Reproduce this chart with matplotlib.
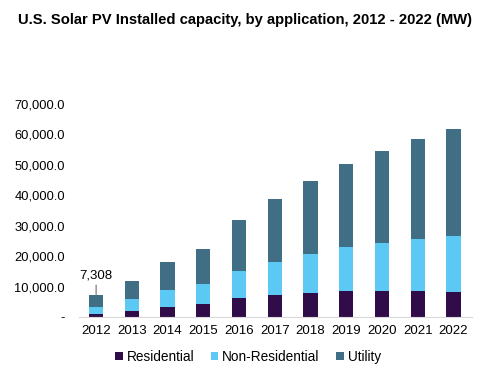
import matplotlib
matplotlib.use("Agg")
import matplotlib.pyplot as plt
import numpy as np

years = ["2012", "2013", "2014", "2015", "2016", "2017", "2018", "2019", "2020", "2021", "2022"]
residential = [1000, 2100, 3300, 4300, 6300, 7200, 7900, 8600, 8600, 8600, 8200]
non_residential = [2300, 3800, 5600, 6600, 8800, 10900, 12800, 14400, 15700, 17100, 18400]
utility = [4008, 5950, 9200, 11500, 16800, 20700, 24000, 27300, 30300, 32800, 35200]
series_names = ["Residential", "Non-Residential", "Utility"]
colors = ["#300D48", "#5BC9F3", "#3F6E85"]
yticks = [0, 10000, 20000, 30000, 40000, 50000, 60000, 70000]
ytick_labels = ["-", "10,000.0", "20,000.0", "30,000.0", "40,000.0", "50,000.0", "60,000.0", "70,000.0"]
label_text = "7,308"

plt.rcParams['font.family'] = ['Liberation Sans', 'DejaVu Sans']

fig = plt.figure(figsize=(4.96, 3.79), dpi=100)
W, H = 496, 379
ax = fig.add_axes([79 / W, 1 - 317 / H, (472 - 79) / W, (317 - 104) / H])

x = np.arange(len(years))
bw = 0.4
bottom = np.zeros(len(years))
for vals, name, c in zip([residential, non_residential, utility], series_names, colors):
    ax.bar(x, vals, bw, bottom=bottom, color=c, label=name)
    bottom = bottom + np.array(vals)

ax.set_xlim(-0.48, 10.52)
ax.set_ylim(0, 70000)
ax.set_yticks(yticks)
ax.set_yticklabels(ytick_labels)
ax.set_xticks(x)
ax.set_xticklabels(years)
ax.tick_params(axis='y', length=0, pad=10, labelsize=9.3, colors='black')
ax.tick_params(axis='x', length=0, pad=5.5, labelsize=9.5, colors='black')
for s in ['top', 'right', 'left']:
    ax.spines[s].set_visible(False)
ax.spines['bottom'].set_color('#D9D9D9')

# data label for 2012 total
total0 = bottom[0]
ax.annotate(label_text, xy=(x[0], total0 + 100), xytext=(x[0], total0 + 4300),
            ha='center', va='bottom', fontsize=9.5,
            arrowprops=dict(arrowstyle='-', color='#8C8C8C', lw=1.0, shrinkA=0.5, shrinkB=0))

fig.text(245 / W, 1 - 20 / H, "U.S. Solar PV Installed capacity, by application, 2012 - 2022 (MW)",
         ha='center', va='center', fontsize=10.6, fontweight='bold')

leg = fig.legend(loc='center', bbox_to_anchor=(248 / W, 1 - 357 / H), ncol=3, frameon=False,
                 fontsize=9.8, handlelength=0.55, handleheight=0.55, handletextpad=0.3,
                 columnspacing=1.2)

fig.savefig("out.png", dpi=100)
